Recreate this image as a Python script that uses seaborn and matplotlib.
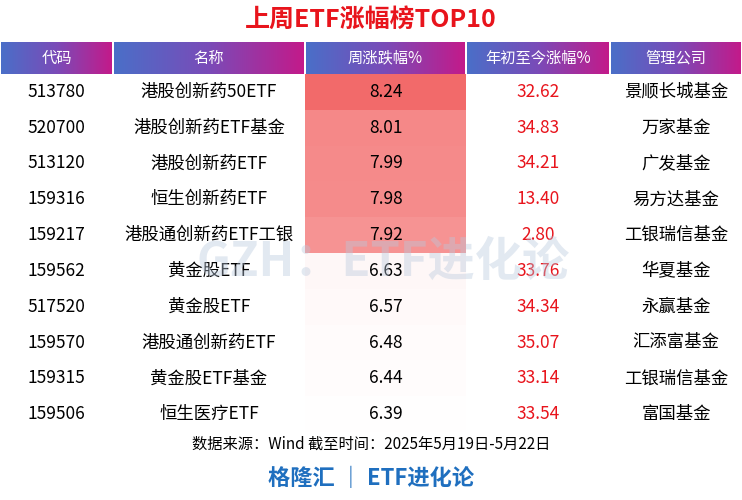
import numpy as np
import pandas as pd
import seaborn as sns
import matplotlib.pyplot as plt
from matplotlib.colors import LinearSegmentedColormap

sns.set_theme(style="white")
plt.rcParams['font.family'] = ['Noto Sans CJK SC', 'DejaVu Sans']

headers = ["代码", "名称", "周涨跌幅%", "年初至今涨幅%", "管理公司"]
codes = ["513780", "520700", "513120", "159316", "159217",
         "159562", "517520", "159570", "159315", "159506"]
names = ["港股创新药50ETF", "港股创新药ETF基金", "港股创新药ETF", "恒生创新药ETF", "港股通创新药ETF工银",
         "黄金股ETF", "黄金股ETF", "港股通创新药ETF", "黄金股ETF基金", "恒生医疗ETF"]
week_chg = [8.24, 8.01, 7.99, 7.98, 7.92, 6.63, 6.57, 6.48, 6.44, 6.39]
ytd_chg = [32.62, 34.83, 34.21, 13.40, 2.80, 33.76, 34.34, 35.07, 33.14, 33.54]
companies = ["景顺长城基金", "万家基金", "广发基金", "易方达基金", "工银瑞信基金",
             "华夏基金", "永赢基金", "汇添富基金", "工银瑞信基金", "富国基金"]

W, H = 742, 500
fig = plt.figure(figsize=(7.42, 5), dpi=100)
ax = fig.add_axes([0, 0, 1, 1])
ax.set_xlim(0, W)
ax.set_ylim(H, 0)
ax.axis('off')

col_edges = [0, 113, 305, 466, 610, 742]
head_top, head_bot = 42, 74
row_h = 35.8

ax.text(W / 2, 20, "上周ETF涨幅榜TOP10", ha='center', va='center',
        fontsize=18, fontweight='bold', color='#e8141c')

# header gradient cells
grad = np.linspace(0, 1, 256).reshape(1, -1)
hcmap = LinearSegmentedColormap.from_list("h", ["#4a6fc8", "#7a4bb8", "#c31a8a"])
for i, h in enumerate(headers):
    x0, x1 = col_edges[i], col_edges[i + 1]
    ax.imshow(grad, cmap=hcmap, extent=[x0 + 1, x1 - 1, head_bot, head_top], aspect='auto', zorder=1)
    ax.text((x0 + x1) / 2, (head_top + head_bot) / 2, h, ha='center', va='center',
            fontsize=11, fontweight='medium', color='white', zorder=2)

# weekly change column as heatmap
ax_hm = fig.add_axes([305 / W, 1 - (head_bot + 10 * row_h) / H, 161 / W, 10 * row_h / H])
cmap = LinearSegmentedColormap.from_list("r", ["#ffffff", "#fde4e4", "#f26a6a"])
df = pd.DataFrame({"w": week_chg})
sns.heatmap(df, ax=ax_hm, cmap=cmap, vmin=6.35, vmax=8.24, cbar=False,
            annot=True, fmt=".2f",
            annot_kws={"fontsize": 12.5, "color": "black", "fontweight": "medium"},
            xticklabels=False, yticklabels=False)

for r in range(10):
    y = head_bot + (r + 0.5) * row_h
    kw = dict(ha='center', va='center', fontsize=12.5, fontweight='medium')
    ax.text(56, y, codes[r], color='black', **kw)
    ax.text(209, y, names[r], color='black', **kw)
    ax.text(538, y, f"{ytd_chg[r]:.2f}", color='#e8141c', **kw)
    ax.text(676, y, companies[r], color='black', **kw)

# watermark on top of everything
fig.text(383 / W, 1 - 262 / H, "GZH：ETF进化论", ha='center', va='center', fontsize=34,
         fontweight='bold', color='#b8c8dc', alpha=0.4, zorder=10)

ax.text(371, 444, "数据来源：Wind 截至时间：2025年5月19日-5月22日", ha='center', va='center',
        fontsize=11, fontweight='medium', color='black')
ax.text(371, 478, "格隆汇 ｜ ETF进化论", ha='center', va='center',
        fontsize=16, fontweight='bold', color='#1f6fbf')

fig.savefig("out.png", dpi=100)
